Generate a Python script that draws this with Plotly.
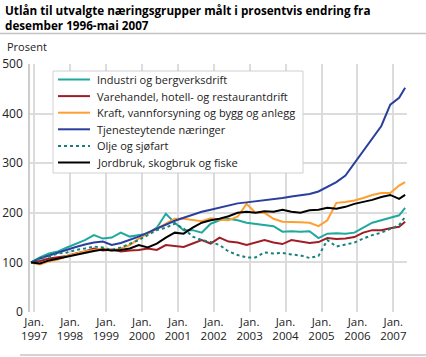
import plotly.graph_objects as go

dates = ["1996-12-01",
         "1997-03-01", "1997-06-01", "1997-09-01", "1997-12-01",
         "1998-03-01", "1998-06-01", "1998-09-01", "1998-12-01",
         "1999-03-01", "1999-06-01", "1999-09-01", "1999-12-01",
         "2000-03-01", "2000-06-01", "2000-09-01", "2000-12-01",
         "2001-03-01", "2001-06-01", "2001-09-01", "2001-12-01",
         "2002-03-01", "2002-06-01", "2002-09-01", "2002-12-01",
         "2003-03-01", "2003-06-01", "2003-09-01", "2003-12-01",
         "2004-03-01", "2004-06-01", "2004-09-01", "2004-12-01",
         "2005-03-01", "2005-06-01", "2005-09-01", "2005-12-01",
         "2006-03-01", "2006-06-01", "2006-09-01", "2006-12-01",
         "2007-03-01", "2007-05-01"]

industri = [100, 110, 118, 122, 130, 138, 145, 155, 148, 150, 160, 152, 155,
            158, 170, 198, 180, 165, 165, 160, 178, 185, 188, 185, 180,
            178, 176, 173, 162, 163, 162, 163, 149, 158, 159, 158, 160,
            170, 180, 185, 190, 195, 210]
varehandel = [100, 103, 108, 110, 113, 118, 122, 128, 124, 126, 122, 124, 125,
              128, 125, 135, 133, 131, 138, 145, 138, 150, 142, 140, 135,
              140, 145, 140, 137, 145, 142, 139, 141, 149, 147, 148, 151,
              160, 165, 165, 169, 172, 182]
kraft = [100, 96, 102, 106, 113, 118, 122, 125, 128, 124, 128, 135, 148,
         158, 168, 178, 188, 188, 185, 183, 189, 186, 185, 192, 218,
         200, 200, 188, 182, 182, 181, 180, 173, 185, 220, 222, 225,
         230, 236, 240, 240, 255, 262]
tjeneste = [100, 108, 114, 120, 126, 131, 136, 140, 142, 135, 139, 145, 152,
            160, 168, 176, 184, 190, 196, 202, 206, 210, 214, 219, 221,
            223, 225, 228, 230, 233, 236, 238, 243, 252, 262, 275, 300,
            325, 350, 375, 418, 432, 452]
olje = [100, 108, 112, 118, 120, 125, 128, 132, 130, 125, 130, 138, 145,
        155, 165, 170, 178, 168, 152, 145, 141, 135, 122, 115, 110,
        110, 120, 118, 119, 116, 114, 109, 113, 145, 132, 136, 140,
        148, 155, 160, 168, 175, 192]
jordbruk = [100, 98, 104, 108, 112, 116, 120, 123, 126, 124, 125, 128, 135,
            130, 138, 150, 160, 158, 170, 180, 185, 188, 193, 200, 202,
            200, 203, 202, 206, 202, 200, 205, 206, 210, 208, 212, 218,
            222, 226, 232, 236, 228, 236]

series_names = ["Industri og bergverksdrift",
                "Varehandel, hotell- og restaurantdrift",
                "Kraft, vannforsyning og bygg og anlegg",
                "Tjenesteytende næringer",
                "Olje og sjøfart",
                "Jordbruk, skogbruk og fiske"]
series_values = [industri, varehandel, kraft, tjeneste, olje, jordbruk]
colors = ["#1fa89d", "#a11d25", "#ff9f30", "#2a3f9d", "#17807c", "#000000"]
dashes = ["solid", "solid", "solid", "solid", "dot", "solid"]

years = list(range(1997, 2008))
tick_vals = [f"{y}-01-01" for y in years]
tick_text = [f"Jan.<br>{y}" for y in years]
y_ticks = [0, 100, 200, 300, 400, 500]

FONT = "Open Sans"
W, H = 426, 357
ML, MR, MT, MB = 30, 19, 64, 45
PW, PH = W - ML - MR, H - MT - MB


def px(xp):
    return (xp - ML) / PW


def py(yp):
    return (H - MB - yp) / PH


fig = go.Figure()
for name, vals, col, dsh in zip(series_names, series_values, colors, dashes):
    fig.add_trace(go.Scatter(x=dates, y=vals, mode="lines", name=name,
                             line=dict(color=col, width=2, dash=dsh)))

fig.update_layout(
    width=W, height=H,
    margin=dict(l=ML, r=MR, t=MT, b=MB, autoexpand=False),
    paper_bgcolor="white", plot_bgcolor="white",
    font=dict(family=FONT, size=11, color="#222"),
    showlegend=False,
    xaxis=dict(type="date", range=["1996-11-20", "2007-05-20"],
               tickvals=tick_vals, ticktext=tick_text,
               showgrid=True, gridcolor="#dcdcdc", gridwidth=1.5,
               showline=False, zeroline=False, ticks="", automargin=False,
               ticklabelstandoff=1,
               tickfont=dict(size=11.5, color="#222")),
    yaxis=dict(range=[0, 500], tickvals=y_ticks,
               showgrid=True, gridcolor="#dcdcdc", gridwidth=1.5,
               showline=True, linecolor="#cccccc", linewidth=1.5,
               zeroline=False, ticks="", automargin=False,
               ticklabelstandoff=3,
               tickfont=dict(size=12, color="#222")),
)

# Title (two lines) and unit label
title_lines = ["Utlån til utvalgte næringsgrupper målt i prosentvis endring fra",
               "desember 1996-mai 2007"]
for i, t in enumerate(title_lines):
    fig.add_annotation(xref="paper", yref="paper", x=px(3), y=py(10 + 15 * i),
                       xanchor="left", yanchor="middle", showarrow=False,
                       text=f"<b>{t}</b>", font=dict(size=11.7, color="#000"))
fig.add_annotation(xref="paper", yref="paper", x=px(5), y=py(47),
                   xanchor="left", yanchor="middle", showarrow=False,
                   text="Prosent", font=dict(size=11, color="#222"))
fig.add_shape(type="line", xref="paper", yref="paper",
              x0=px(0), x1=px(W), y0=py(33.5), y1=py(33.5),
              line=dict(color="#c4c4c4", width=1.5))
fig.add_shape(type="line", xref="paper", yref="paper",
              x0=px(20), x1=px(W), y0=py(355), y1=py(355),
              line=dict(color="#c4c4c4", width=1.5))

# Legend box
fig.add_shape(type="rect", xref="paper", yref="paper",
              x0=px(53), x1=px(303), y0=py(71), y1=py(173),
              fillcolor="white", line=dict(color="#d0d0d0", width=1),
              layer="above")
for i, (name, col, dsh) in enumerate(zip(series_names, colors, dashes)):
    yy = 79.5 + 16.6 * i
    fig.add_shape(type="line", xref="paper", yref="paper",
                  x0=px(58), x1=px(90), y0=py(yy), y1=py(yy),
                  line=dict(color=col, width=2, dash=dsh), layer="above")
    fig.add_annotation(xref="paper", yref="paper", x=px(95), y=py(yy),
                       xanchor="left", yanchor="middle", showarrow=False,
                       text=name, font=dict(size=11, color="#222"))

fig.write_html("out.html", config={"displayModeBar": False},
               post_script="document.body.style.margin='0';")
